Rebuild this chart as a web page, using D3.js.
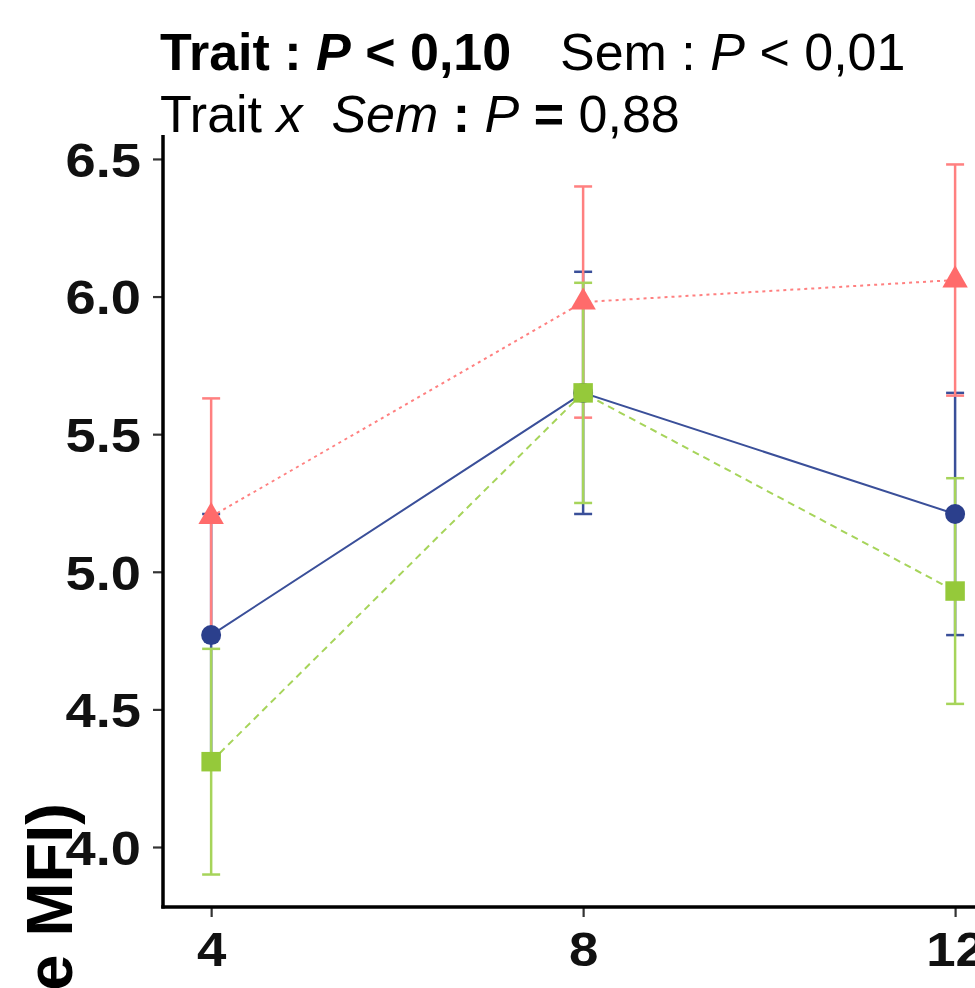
<!DOCTYPE html>
<html><head><meta charset="utf-8">
<script src="https://cdn.jsdelivr.net/npm/d3@7"></script>
<style>
html,body{margin:0;padding:0;background:#fff;overflow:hidden;}
text{font-family:"Liberation Sans",Arial,sans-serif;}
</style></head>
<body><svg id="chart" width="975" height="988"></svg>
<script>
const weeks = [4, 8, 12];
const xTickLabels = ["4", "8", "12"];
const yTickValues = [4.0, 4.5, 5.0, 5.5, 6.0, 6.5];
const blueMean = [4.77, 5.65, 5.21];
const blueErr = [0.44, 0.44, 0.44];
const redMean = [5.20, 5.98, 6.06];
const redErr = [0.43, 0.42, 0.42];
const greenMean = [4.31, 5.65, 4.93];
const greenErr = [0.41, 0.40, 0.41];
const yLabel = "e MFI)";

const series = [
  {name: "blue", mean: blueMean, err: blueErr, color: "#2b3f8c", barColor: "#3a4f99", dash: null, shape: "circle"},
  {name: "red", mean: redMean, err: redErr, color: "#ff6b6b", barColor: "#ff8080", dash: "3,4", shape: "triangle"},
  {name: "green", mean: greenMean, err: greenErr, color: "#95c93a", barColor: "#a6d45a", dash: "7,5", shape: "square"}
];

const svg = d3.select("#chart");
const x = d3.scaleLinear().domain([3.45, 12.3]).range([160, 983]);
const y = d3.scaleLinear().domain([3.782, 6.587]).range([907, 135]);

// Title
const t1 = svg.append("text").attr("x", 160).attr("y", 70).attr("font-size", 52).attr("fill", "#000");
t1.append("tspan").attr("font-weight", "bold").text("Trait : ");
t1.append("tspan").attr("font-weight", "bold").attr("font-style", "italic").text("P");
t1.append("tspan").attr("font-weight", "bold").text(" < 0,10");
t1.append("tspan").attr("x", 560).text("Sem : ");
t1.append("tspan").attr("font-style", "italic").text("P");
t1.append("tspan").text(" < 0,01");

const t2 = svg.append("text").attr("x", 160).attr("y", 132).attr("font-size", 52).attr("fill", "#000").attr("xml:space", "preserve");
t2.append("tspan").text("Trait ");
t2.append("tspan").attr("font-style", "italic").text("x  Sem");
t2.append("tspan").attr("font-weight", "bold").text(" : ");
t2.append("tspan").attr("font-style", "italic").text("P");
t2.append("tspan").attr("font-weight", "bold").text(" = ");
t2.append("tspan").text("0,88");

function widen(sel, f) {
  sel.each(function() {
    const w = this.getComputedTextLength();
    d3.select(this).attr("textLength", w * f).attr("lengthAdjust", "spacingAndGlyphs");
  });
}

// Y axis
const yAxis = svg.append("g").attr("transform", "translate(163,0)")
  .call(d3.axisLeft(y).tickValues(yTickValues).tickFormat(d3.format(".1f")).tickSize(10).tickPadding(12));
yAxis.select(".domain").remove();
yAxis.selectAll(".tick line").attr("stroke", "#333").attr("stroke-width", 2.2);
yAxis.selectAll(".tick text").attr("font-size", 48).attr("font-weight", "bold").attr("fill", "#111")
  .attr("font-family", "Liberation Sans, Arial, sans-serif").attr("dy", "0.36em");
widen(yAxis.selectAll(".tick text"), 1.13);

// X axis
const xAxis = svg.append("g").attr("transform", "translate(0,907)")
  .call(d3.axisBottom(x).tickValues(weeks).tickFormat((d, i) => xTickLabels[i]).tickSize(10).tickPadding(14));
xAxis.select(".domain").remove();
xAxis.selectAll(".tick line").attr("stroke", "#333").attr("stroke-width", 2.2);
xAxis.selectAll(".tick text").attr("font-size", 48).attr("font-weight", "bold").attr("fill", "#111")
  .attr("font-family", "Liberation Sans, Arial, sans-serif").attr("dy", "0.72em");
widen(xAxis.selectAll(".tick text"), 1.1);

// axis lines
svg.append("line").attr("x1", 163).attr("x2", 163).attr("y1", y.range()[1]).attr("y2", 908.5)
  .attr("stroke", "#000").attr("stroke-width", 3.5);
svg.append("line").attr("x1", 161.25).attr("x2", x.range()[1]).attr("y1", 907).attr("y2", 907)
  .attr("stroke", "#000").attr("stroke-width", 3.5);

// Y label
svg.append("text").attr("transform", "translate(72,803) rotate(-90)")
  .attr("text-anchor", "end").attr("font-size", 65).attr("font-weight", "bold").attr("fill", "#000").text(yLabel);

// error bars
const capW = 9;
series.forEach(s => {
  const g = svg.append("g").attr("stroke", s.barColor).attr("stroke-width", 2.5);
  weeks.forEach((w, i) => {
    const cx = x(w), lo = y(s.mean[i] - s.err[i]), hi = y(s.mean[i] + s.err[i]);
    g.append("line").attr("x1", cx).attr("x2", cx).attr("y1", lo).attr("y2", hi);
    g.append("line").attr("x1", cx - capW).attr("x2", cx + capW).attr("y1", lo).attr("y2", lo);
    g.append("line").attr("x1", cx - capW).attr("x2", cx + capW).attr("y1", hi).attr("y2", hi);
  });
});

// lines
const line = d3.line().x((d, i) => x(weeks[i])).y(d => y(d));
series.forEach(s => {
  svg.append("path").datum(s.mean).attr("d", line).attr("fill", "none")
    .attr("stroke", s.barColor).attr("stroke-width", 2).attr("stroke-dasharray", s.dash);
});

// points
const symMap = {circle: d3.symbolCircle, triangle: d3.symbolTriangle, square: d3.symbolSquare};
const sizeMap = {circle: 314, triangle: 280, square: 380};
series.forEach(s => {
  svg.append("g").selectAll("path").data(s.mean).join("path")
    .attr("transform", (d, i) => `translate(${x(weeks[i])},${y(d)})`)
    .attr("d", d3.symbol().type(symMap[s.shape]).size(sizeMap[s.shape]))
    .attr("fill", s.color);
});
</script></body></html>
